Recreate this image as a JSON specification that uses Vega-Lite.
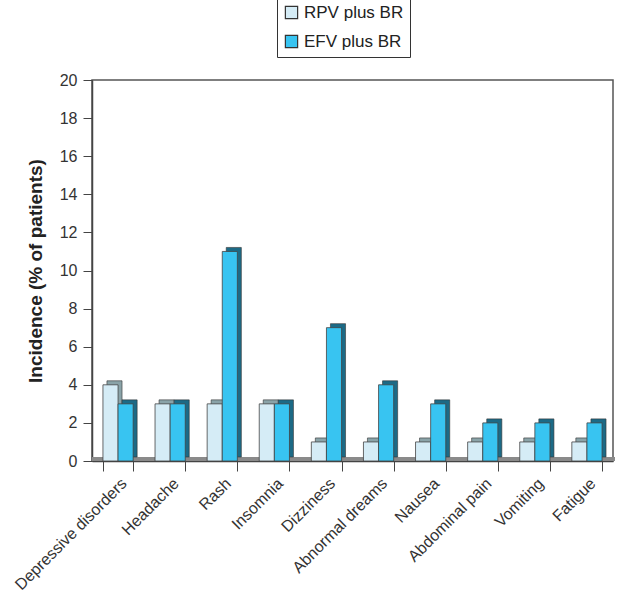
{
  "$schema": "https://vega.github.io/schema/vega-lite/v6.json",
  "autosize": "none",
  "width": 521,
  "height": 381,
  "padding": {"left": 92, "top": 80, "right": 6, "bottom": 131},
  "background": "white",
  "config": {
    "font": "Liberation Sans",
    "view": {"stroke": "#555", "strokeWidth": 1.5}
  },
  "data": {
    "values": [
      {"event": "Depressive disorders", "series": "RPV plus BR", "value": 4},
      {"event": "Depressive disorders", "series": "EFV plus BR", "value": 3},
      {"event": "Headache", "series": "RPV plus BR", "value": 3},
      {"event": "Headache", "series": "EFV plus BR", "value": 3},
      {"event": "Rash", "series": "RPV plus BR", "value": 3},
      {"event": "Rash", "series": "EFV plus BR", "value": 11},
      {"event": "Insomnia", "series": "RPV plus BR", "value": 3},
      {"event": "Insomnia", "series": "EFV plus BR", "value": 3},
      {"event": "Dizziness", "series": "RPV plus BR", "value": 1},
      {"event": "Dizziness", "series": "EFV plus BR", "value": 7},
      {"event": "Abnormal dreams", "series": "RPV plus BR", "value": 1},
      {"event": "Abnormal dreams", "series": "EFV plus BR", "value": 4},
      {"event": "Nausea", "series": "RPV plus BR", "value": 1},
      {"event": "Nausea", "series": "EFV plus BR", "value": 3},
      {"event": "Abdominal pain", "series": "RPV plus BR", "value": 1},
      {"event": "Abdominal pain", "series": "EFV plus BR", "value": 2},
      {"event": "Vomiting", "series": "RPV plus BR", "value": 1},
      {"event": "Vomiting", "series": "EFV plus BR", "value": 2},
      {"event": "Fatigue", "series": "RPV plus BR", "value": 1},
      {"event": "Fatigue", "series": "EFV plus BR", "value": 2}
    ]
  },
  "encoding": {
    "x": {
      "field": "event",
      "type": "nominal",
      "sort": null,
      "scale": {"paddingInner": 0.42, "paddingOuter": 0.21},
      "axis": {
        "title": null,
        "tickBand": "extent",
        "labelAngle": -45,
        "labelFontSize": 16,
        "labelColor": "#333",
        "labelPadding": 4,
        "tickSize": 10,
        "tickColor": "#444",
        "domainColor": "#444",
        "domainWidth": 1.5,
        "grid": false
      }
    },
    "y": {
      "field": "value",
      "type": "quantitative",
      "scale": {"domain": [0, 20]},
      "axis": {
        "title": "Incidence (% of patients)",
        "titleFontSize": 19,
        "titleFontWeight": "bold",
        "titleColor": "#222",
        "titlePadding": 14,
        "values": [0, 2, 4, 6, 8, 10, 12, 14, 16, 18, 20],
        "labelFontSize": 16,
        "labelColor": "#333",
        "labelPadding": 6,
        "tickSize": 9,
        "tickColor": "#444",
        "domainColor": "#444",
        "domainWidth": 1.5,
        "grid": false
      }
    }
  },
  "layer": [
    {
      "mark": {"type": "rule", "stroke": "#8a8a8a", "strokeWidth": 4, "yOffset": -2, "xOffset": 2},
      "encoding": {"y": {"datum": 0}, "x": null}
    },
    {
      "mark": {"type": "bar", "yOffset": -4, "stroke": "#333", "strokeWidth": 0.6},
      "encoding": {
        "xOffset": {"field": "series", "type": "nominal", "sort": ["RPV plus BR", "EFV plus BR"], "scale": {"range": [4, 34.2]}},
        "color": {
          "field": "series",
          "type": "nominal",
          "scale": {"domain": ["RPV plus BR", "EFV plus BR"], "range": ["#8aa3a8", "#1c6a86"]},
          "legend": null
        }
      }
    },
    {
      "mark": {"type": "bar", "stroke": "#444", "strokeWidth": 0.8},
      "encoding": {
        "xOffset": {"field": "series", "type": "nominal", "sort": ["RPV plus BR", "EFV plus BR"]},
        "color": {
          "field": "series",
          "type": "nominal",
          "scale": {"domain": ["RPV plus BR", "EFV plus BR"], "range": ["#d5ecf6", "#38c4f1"]},
          "legend": {
            "title": null,
            "orient": "none",
            "legendX": 185,
            "legendY": -82,
            "symbolType": "square",
            "symbolSize": 150,
            "symbolStrokeColor": "#333",
            "symbolStrokeWidth": 1.2,
            "labelFontSize": 17,
            "labelColor": "#222",
            "labelOffset": 4,
            "rowPadding": 10,
            "padding": 6,
            "strokeColor": "#333",
            "fillColor": "white"
          }
        }
      }
    }
  ],
  "resolve": {"scale": {"color": "independent", "xOffset": "independent"}}
}
